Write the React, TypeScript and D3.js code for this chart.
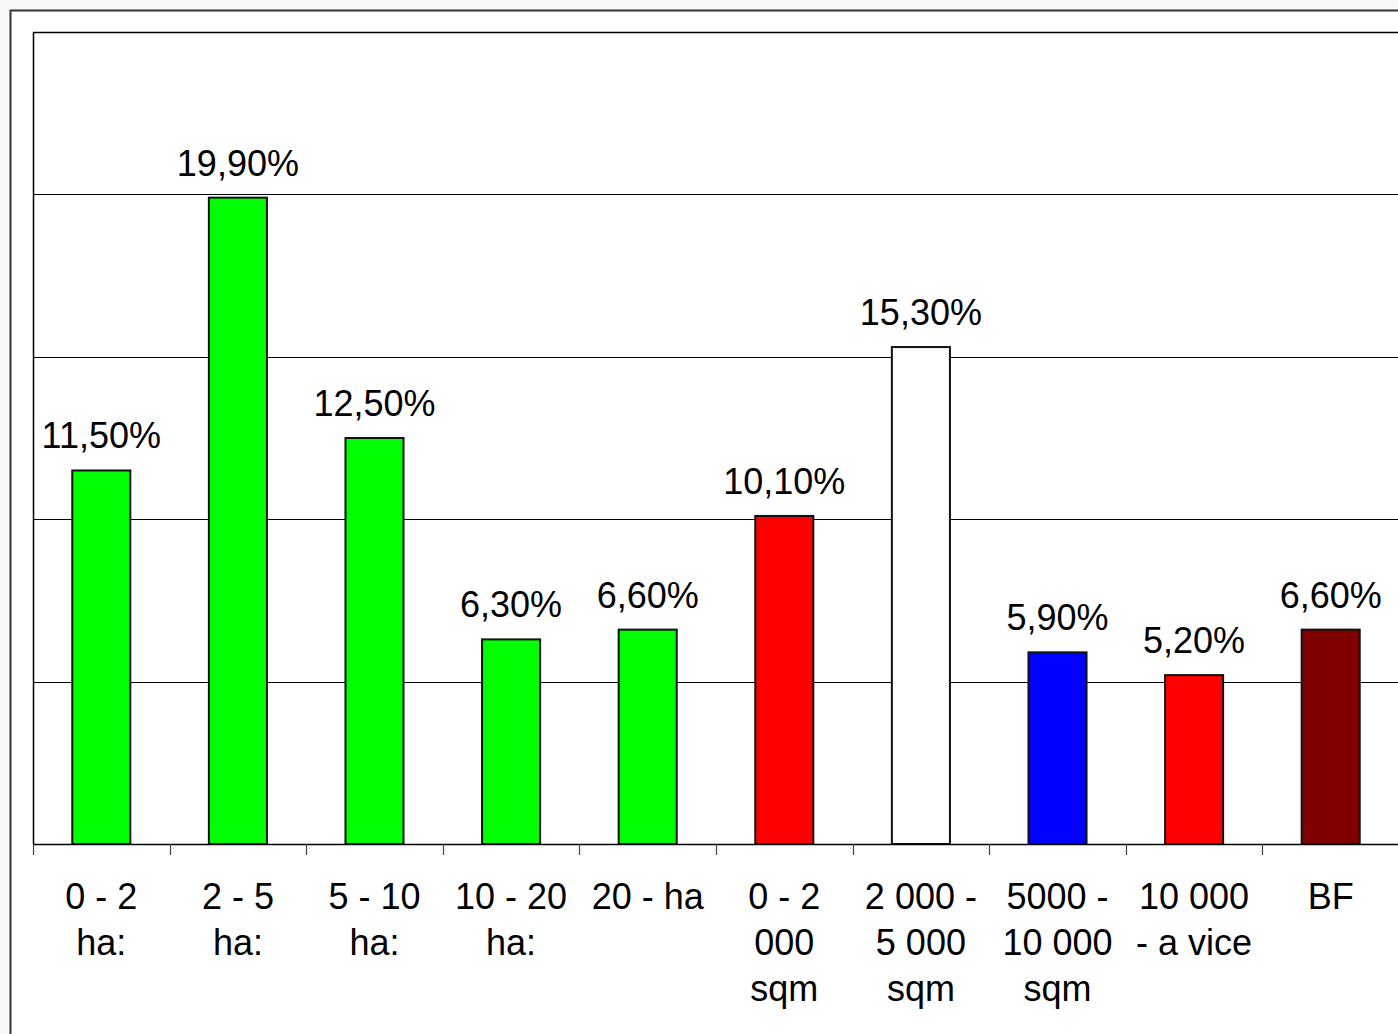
import React from 'react';
import * as d3 from 'd3';

// Category labels, one array of lines per bar
const CATEGORIES: string[][] = [
  ['0 - 2', 'ha:'],
  ['2 - 5', 'ha:'],
  ['5 - 10', 'ha:'],
  ['10 - 20', 'ha:'],
  ['20 - ha'],
  ['0 - 2', '000', 'sqm'],
  ['2 000 -', '5 000', 'sqm'],
  ['5000 -', '10 000', 'sqm'],
  ['10 000', '- a vice'],
  ['BF'],
];

const VALUES = [11.5, 19.9, 12.5, 6.3, 6.6, 10.1, 15.3, 5.9, 5.2, 6.6];

const COLORS = [
  '#00ff00', '#00ff00', '#00ff00', '#00ff00', '#00ff00',
  '#ff0000', '#ffffff', '#0000ff', '#ff0000', '#800000',
];

const GRID_TICKS = [5, 10, 15, 20];

const W = 1398;
const H = 1034;
const FONT = '"Liberation Sans", Arial, sans-serif';

const App: React.FC = () => {
  const plot = { left: 33, top: 32, right: 1399, bottom: 844 };

  const x = d3
    .scaleBand<number>()
    .domain(d3.range(VALUES.length))
    .range([plot.left, plot.right])
    .paddingInner(0.575)
    .paddingOuter(0.2875);

  const y = d3.scaleLinear().domain([0, 25]).range([plot.bottom, plot.top]);

  const step = x.step();
  const fmt = (v: number) => v.toFixed(2).replace('.', ',') + '%';

  return (
    <svg
      width={W}
      height={H}
      style={{ position: 'fixed', left: 0, top: 0, display: 'block' }}
      fontFamily={FONT}
    >
      <rect x={0} y={0} width={W} height={H} fill="#f7f7f7" />
      {/* outer chart frame */}
      <rect x={10.5} y={10.5} width={W + 20} height={H + 20} fill="#ffffff" stroke="#333" strokeWidth={2} />

      {/* gridlines */}
      {GRID_TICKS.map((t) => (
        <line key={t} x1={plot.left} x2={plot.right + 10} y1={Math.round(y(t)) + 0.5} y2={Math.round(y(t)) + 0.5} stroke="#000" strokeWidth={1} />
      ))}

      {/* plot frame */}
      <line x1={plot.left + 0.5} x2={plot.left + 0.5} y1={plot.top} y2={plot.bottom} stroke="#000" strokeWidth={1.5} />
      <line x1={plot.left} x2={plot.right + 10} y1={plot.top + 0.5} y2={plot.top + 0.5} stroke="#000" strokeWidth={1.5} />

      {/* bars */}
      {VALUES.map((v, i) => (
        <rect
          key={i}
          x={x(i)}
          y={y(v)}
          width={x.bandwidth()}
          height={y(0) - y(v)}
          fill={COLORS[i]}
          stroke="#111"
          strokeWidth={2}
        />
      ))}

      {/* value labels */}
      {VALUES.map((v, i) => (
        <text
          key={i}
          x={(x(i) ?? 0) + x.bandwidth() / 2}
          y={y(v) - 22}
          textAnchor="middle"
          fontSize={36}
          fill="#000"
        >
          {fmt(v)}
        </text>
      ))}

      {/* x axis */}
      <line x1={plot.left} x2={plot.right + 10} y1={plot.bottom + 0.5} y2={plot.bottom + 0.5} stroke="#000" strokeWidth={1.5} />
      {d3.range(VALUES.length + 1).map((i) => {
        const tx = Math.round(plot.left + i * step) + 0.5;
        return <line key={i} x1={tx} x2={tx} y1={plot.bottom} y2={plot.bottom + 11} stroke="#444" strokeWidth={1.2} />;
      })}

      {/* category labels */}
      {CATEGORIES.map((lines, i) => (
        <text
          key={i}
          x={(x(i) ?? 0) + x.bandwidth() / 2}
          y={909}
          textAnchor="middle"
          fontSize={36}
          fill="#000"
        >
          {lines.map((l, j) => (
            <tspan key={j} x={(x(i) ?? 0) + x.bandwidth() / 2} dy={j === 0 ? 0 : 46}>
              {l}
            </tspan>
          ))}
        </text>
      ))}
    </svg>
  );
};

export default App;
